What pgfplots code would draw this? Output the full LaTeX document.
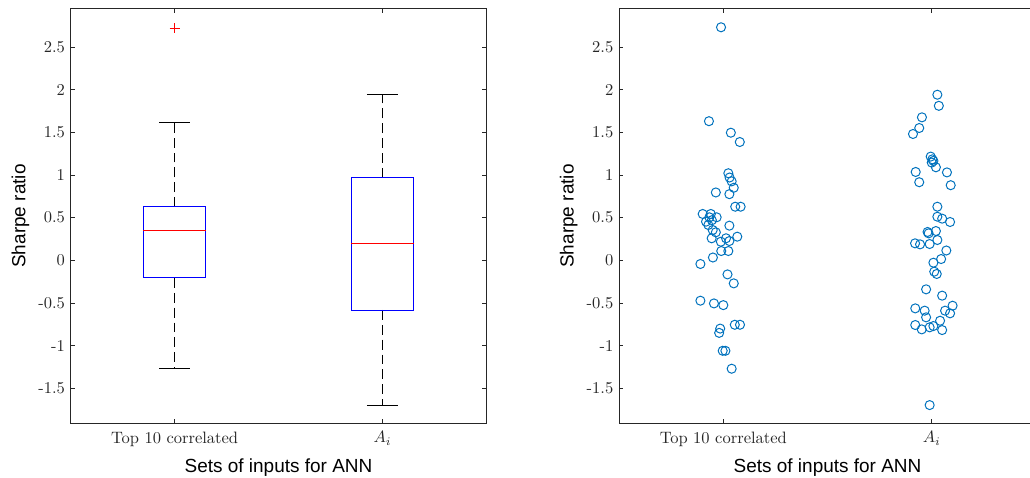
\documentclass[border=0pt]{standalone}
\usepackage{pgfplots}
\pgfplotsset{compat=1.18}
\usepgfplotslibrary{statistics}
\usepackage{fontspec}
\newfontfamily\arial{Liberation Sans}
\definecolor{mblue}{RGB}{0,114,189}
\definecolor{axgray}{RGB}{38,38,38}

\pgfplotstableread{
x y
0.989 2.73
0.931 1.63
1.036 1.495
1.079 1.386
1.024 1.02
1.030 0.97
1.040 0.925
1.050 0.85
0.964 0.795
1.029 0.775
1.057 0.628
1.083 0.628
0.901 0.543
0.940 0.543
0.933 0.504
0.968 0.504
0.917 0.453
0.945 0.470
0.928 0.414
1.029 0.406
0.949 0.355
0.964 0.328
0.944 0.258
1.013 0.258
1.067 0.277
1.029 0.226
0.988 0.218
0.990 0.109
1.024 0.109
0.950 0.033
0.890 -0.043
1.020 -0.165
1.050 -0.27
0.890 -0.473
0.955 -0.505
1.000 -0.525
1.055 -0.755
1.080 -0.755
0.985 -0.80
0.980 -0.85
0.997 -1.06
1.010 -1.06
1.040 -1.27
}\topten

\pgfplotstableread{
x y
2.027 1.94
2.034 1.81
1.953 1.675
1.940 1.55
1.910 1.48
1.995 1.215
2.003 1.183
2.008 1.165
2.000 1.145
2.020 1.09
1.923 1.035
2.073 1.03
1.940 0.915
2.091 0.88
2.027 0.628
2.027 0.511
2.050 0.488
2.088 0.449
1.980 0.332
1.985 0.316
2.020 0.343
2.027 0.238
1.920 0.199
1.944 0.187
1.990 0.191
2.070 0.115
2.045 0.015
2.008 -0.028
2.012 -0.133
2.024 -0.16
1.973 -0.34
2.050 -0.414
1.921 -0.563
1.966 -0.59
2.100 -0.532
2.064 -0.59
2.088 -0.621
1.973 -0.668
2.040 -0.708
1.921 -0.758
1.952 -0.809
1.990 -0.785
2.008 -0.77
2.050 -0.817
1.990 -1.696
}\ai

\pgfplotsset{
  myax/.style={
    scale only axis, anchor=south west,
    height=251.3pt,
    xmin=0.5, xmax=2.5, ymin=-1.91, ymax=2.948,
    xtick={1,2}, xticklabels={Top 10 correlated,$A_i$},
    ytick={-1.5,-1,-0.5,0,0.5,1,1.5,2,2.5},
    yticklabels={-1.5,-1,-0.5,0,0.5,1,1.5,2,2.5},
    tick align=inside, major tick length=2.6pt,
    axis line style={axgray, line width=0.4pt},
    tick style={axgray, line width=0.4pt},
    ticklabel style={text=axgray, font=\fontsize{10}{12}\selectfont},
    xticklabel style={yshift=-1.5pt},
    xlabel={Sets of inputs for ANN}, ylabel={Sharpe ratio},
    label style={font=\arial\fontsize{11.5}{13}\selectfont, text=black},
    xlabel style={at={(axis description cs:0.5,-0.106)}, anchor=center},
    ylabel style={at={(axis description cs:-0.121,0.5)}, anchor=center},
  },
  mybox/.style={
    boxplot/draw direction=y,
    boxplot/draw/box/.code={\draw[blue, line width=0.6pt] (boxplot box cs:\pgfplotsboxplotvalue{lower quartile},0) rectangle (boxplot box cs:\pgfplotsboxplotvalue{upper quartile},1);},
    boxplot/draw/median/.code={\draw[red, line width=0.6pt] (boxplot box cs:\pgfplotsboxplotvalue{median},0) -- (boxplot box cs:\pgfplotsboxplotvalue{median},1);},
    boxplot/draw/lower whisker/.code={\draw[black, line width=0.55pt, dash pattern=on 6pt off 3pt] (boxplot cs:\pgfplotsboxplotvalue{lower quartile}) -- (boxplot cs:\pgfplotsboxplotvalue{lower whisker}); \draw[black, line width=0.55pt] (boxplot whisker cs:\pgfplotsboxplotvalue{lower whisker},0) -- (boxplot whisker cs:\pgfplotsboxplotvalue{lower whisker},1);},
    boxplot/draw/upper whisker/.code={\draw[black, line width=0.55pt, dash pattern=on 6pt off 3pt] (boxplot cs:\pgfplotsboxplotvalue{upper quartile}) -- (boxplot cs:\pgfplotsboxplotvalue{upper whisker}); \draw[black, line width=0.55pt] (boxplot whisker cs:\pgfplotsboxplotvalue{upper whisker},0) -- (boxplot whisker cs:\pgfplotsboxplotvalue{upper whisker},1);},
  },
}

\begin{document}
\begin{tikzpicture}
\useasboundingbox (0,0) rectangle (624.2pt,289.1pt);
\clip (0,0) rectangle (624.2pt,289.1pt);
\begin{axis}[myax, mybox, at={(42.84pt,32.54pt)}, width=251.9pt]
\addplot[boxplot prepared={median=0.355, upper quartile=0.625, lower quartile=-0.207, upper whisker=1.62, lower whisker=-1.265, draw position=1, box extend=0.3, whisker extend=0.15}, red, mark=+, mark size=3pt, mark options={solid, line width=0.5pt}]
  table[row sep=\\, y index=0] {2.72\\};
\addplot[boxplot prepared={median=0.195, upper quartile=0.968, lower quartile=-0.582, upper whisker=1.94, lower whisker=-1.695, draw position=2, box extend=0.3, whisker extend=0.15}]
  coordinates {};
\end{axis}
\begin{axis}[myax, at={(375.2pt,32.54pt)}, width=252.6pt]
\addplot[only marks, mark=o, mark size=2.75pt, mblue, line width=0.6pt] table[x=x, y=y] {\topten};
\addplot[only marks, mark=o, mark size=2.75pt, mblue, line width=0.6pt] table[x=x, y=y] {\ai};
\end{axis}
\end{tikzpicture}
\end{document}
